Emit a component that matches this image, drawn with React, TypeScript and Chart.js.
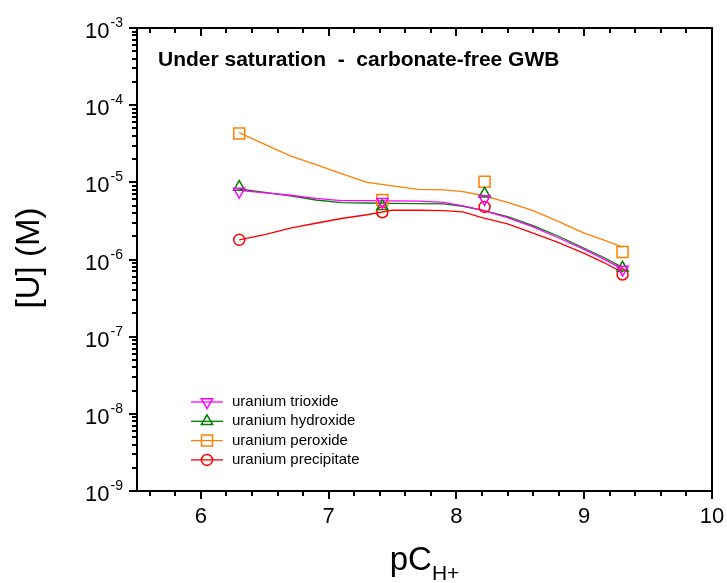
import React, { useEffect, useRef } from 'react';
import { Chart, registerables } from 'chart.js';

Chart.register(...registerables);

// ---- data ----
const markerX = [6.3, 7.42, 8.22, 9.3];
const trioxideMarkers = [7.6e-6, 5.6e-6, 6.1e-6, 7.4e-7];
const hydroxideMarkers = [8.7e-6, 4.9e-6, 7.1e-6, 7.8e-7];
const peroxideMarkers = [4.3e-5, 5.9e-6, 1.02e-5, 1.25e-6];
const precipitateMarkers = [1.8e-6, 4.1e-6, 4.8e-6, 6.4e-7];

const curveX = [6.3, 6.5, 6.7, 6.9, 7.1, 7.3, 7.5, 7.7, 7.9, 8.05, 8.2, 8.4, 8.6, 8.8, 9.0, 9.15, 9.3];
const trioxideCurve = [7.9e-6, 7.3e-6, 6.8e-6, 6.2e-6, 5.8e-6, 5.8e-6, 5.75e-6, 5.7e-6, 5.5e-6, 4.95e-6, 4.35e-6, 3.5e-6, 2.65e-6, 1.9e-6, 1.35e-6, 1.02e-6, 7.5e-7];
const hydroxideCurve = [8.2e-6, 7.4e-6, 6.7e-6, 5.9e-6, 5.45e-6, 5.4e-6, 5.35e-6, 5.3e-6, 5.25e-6, 4.9e-6, 4.35e-6, 3.6e-6, 2.75e-6, 2.0e-6, 1.4e-6, 1.07e-6, 7.9e-7];
const peroxideCurve = [4.4e-5, 3.1e-5, 2.2e-5, 1.7e-5, 1.3e-5, 1.0e-5, 9.0e-6, 8.1e-6, 8.0e-6, 7.6e-6, 6.8e-6, 5.5e-6, 4.3e-6, 3.1e-6, 2.2e-6, 1.8e-6, 1.45e-6];
const precipitateCurve = [1.8e-6, 2.1e-6, 2.55e-6, 2.95e-6, 3.4e-6, 3.8e-6, 4.35e-6, 4.35e-6, 4.3e-6, 4.15e-6, 3.5e-6, 2.9e-6, 2.2e-6, 1.65e-6, 1.2e-6, 0.92e-6, 6.8e-7];

const seriesNames = ['uranium trioxide', 'uranium hydroxide', 'uranium peroxide', 'uranium precipitate'];
const seriesColors = ['#ff00ff', '#008000', '#ff8000', '#ff0000'];
const seriesStyles = ['triangleDown', 'triangle', 'rect', 'circle'];

const xMajorTicks = [6, 7, 8, 9, 10];
const xMinorTicks = [5.6, 5.8, 6.2, 6.4, 6.6, 6.8, 7.2, 7.4, 7.6, 7.8, 8.2, 8.4, 8.6, 8.8, 9.2, 9.4, 9.6, 9.8];
const yDecades = [-9, -8, -7, -6, -5, -4, -3];

const plotTitle = 'Under saturation  -  carbonate-free GWB';
const yTitle = '[U] (M)';
const xTitleMain = 'pC';
const xTitleSub = 'H+';

const FONT = '"Liberation Sans", Arial, sans-serif';

function pts(xs: number[], ys: number[]) {
  return xs.map((x, i) => ({ x, y: ys[i] }));
}

function drawMarker(ctx: CanvasRenderingContext2D, style: string, x: number, y: number) {
  ctx.beginPath();
  if (style === 'circle') {
    ctx.arc(x, y, 5.5, 0, Math.PI * 2);
  } else if (style === 'rect') {
    const s = 5.5;
    ctx.rect(x - s, y - s, 2 * s, 2 * s);
  } else {
    const r = 6.5;
    let rad = style === 'triangleDown' ? Math.PI : 0;
    ctx.moveTo(x + Math.sin(rad) * r, y - Math.cos(rad) * r);
    rad += (2 * Math.PI) / 3;
    ctx.lineTo(x + Math.sin(rad) * r, y - Math.cos(rad) * r);
    rad += (2 * Math.PI) / 3;
    ctx.lineTo(x + Math.sin(rad) * r, y - Math.cos(rad) * r);
    ctx.closePath();
  }
  ctx.stroke();
}

const decorPlugin = {
  id: 'decor',
  afterDraw(chart: any) {
    const ctx: CanvasRenderingContext2D = chart.ctx;
    const { left, right, top, bottom } = chart.chartArea;
    const xs = chart.scales.x;
    const ys = chart.scales.y;
    ctx.save();
    ctx.strokeStyle = '#000';
    ctx.fillStyle = '#000';

    // frame
    ctx.lineWidth = 2;
    ctx.strokeRect(left, top, right - left, bottom - top);

    // x ticks (bottom outward, top inward)
    ctx.lineWidth = 2;
    ctx.beginPath();
    xMajorTicks.forEach((v) => {
      const px = Math.round(xs.getPixelForValue(v));
      ctx.moveTo(px, bottom); ctx.lineTo(px, bottom + 8);
      ctx.moveTo(px, top); ctx.lineTo(px, top + 8);
    });
    xMinorTicks.forEach((v) => {
      const px = Math.round(xs.getPixelForValue(v));
      ctx.moveTo(px, bottom); ctx.lineTo(px, bottom + 5);
      ctx.moveTo(px, top); ctx.lineTo(px, top + 5);
    });
    ctx.stroke();

    // y ticks (left outward)
    ctx.beginPath();
    yDecades.forEach((e) => {
      const py = Math.round(ys.getPixelForValue(Math.pow(10, e)));
      ctx.moveTo(left, py); ctx.lineTo(left - 8, py);
      if (e < -3) {
        for (let m = 2; m <= 9; m++) {
          const pm = Math.round(ys.getPixelForValue(m * Math.pow(10, e)));
          ctx.moveTo(left, pm); ctx.lineTo(left - 5, pm);
        }
      }
    });
    ctx.stroke();

    // x tick labels
    ctx.font = `22px ${FONT}`;
    ctx.textAlign = 'center';
    ctx.textBaseline = 'alphabetic';
    xMajorTicks.forEach((v) => {
      ctx.fillText(String(v), xs.getPixelForValue(v), 523);
    });

    // y tick labels 10^e
    yDecades.forEach((e) => {
      const py = ys.getPixelForValue(Math.pow(10, e));
      ctx.font = `14px ${FONT}`;
      ctx.textAlign = 'right';
      const expStr = String(e);
      const w = ctx.measureText(expStr).width;
      ctx.fillText(expStr, 123, py - 1);
      ctx.font = `22px ${FONT}`;
      ctx.fillText('10', 123 - w - 1, py + 10);
    });

    // axis titles
    ctx.font = `33px ${FONT}`;
    ctx.textAlign = 'left';
    const wMain = ctx.measureText(xTitleMain).width;
    ctx.font = `21px ${FONT}`;
    const wSub = ctx.measureText(xTitleSub).width;
    const startX = (left + right) / 2 - (wMain + wSub) / 2;
    ctx.font = `33px ${FONT}`;
    ctx.fillText(xTitleMain, startX, 570);
    ctx.font = `21px ${FONT}`;
    ctx.fillText(xTitleSub, startX + wMain, 580);

    ctx.save();
    ctx.translate(30, 258);
    ctx.rotate(-Math.PI / 2);
    ctx.font = `33px ${FONT}`;
    ctx.textAlign = 'center';
    ctx.textBaseline = 'middle';
    ctx.fillText(yTitle, 0, 0);
    ctx.restore();

    // inner title
    ctx.font = `bold 21px ${FONT}`;
    ctx.textAlign = 'left';
    ctx.textBaseline = 'alphabetic';
    ctx.fillText(plotTitle, 158, 66);

    // legend
    seriesNames.forEach((name, i) => {
      const y = 402 + i * 19.3;
      ctx.strokeStyle = seriesColors[i];
      ctx.lineWidth = 1.3;
      ctx.beginPath();
      ctx.moveTo(191, y); ctx.lineTo(223, y);
      ctx.stroke();
      ctx.lineWidth = 1.5;
      drawMarker(ctx, seriesStyles[i], 207, y);
      ctx.fillStyle = '#000';
      ctx.font = `15px ${FONT}`;
      ctx.textBaseline = 'middle';
      ctx.fillText(name, 232, y);
    });
    ctx.restore();
  },
};

export default function App() {
  const ref = useRef<HTMLCanvasElement>(null);
  useEffect(() => {
    const markerSets = [trioxideMarkers, hydroxideMarkers, peroxideMarkers, precipitateMarkers];
    const curveSets = [trioxideCurve, hydroxideCurve, peroxideCurve, precipitateCurve];
    const markerDatasets = markerSets.map((vals, i) => ({
      label: seriesNames[i] + ' data',
      data: pts(markerX, vals),
      showLine: false,
      borderColor: seriesColors[i],
      backgroundColor: 'transparent',
      pointStyle: seriesStyles[i] === 'triangleDown' ? 'triangle' : seriesStyles[i],
      rotation: seriesStyles[i] === 'triangleDown' ? 180 : 0,
      pointRadius: seriesStyles[i] === 'rect' ? 7.8 : seriesStyles[i] === 'circle' ? 5.5 : 6.5,
      pointBorderWidth: 1.5,
    }));
    const curveDatasets = curveSets.map((vals, i) => ({
      label: seriesNames[i],
      data: pts(curveX, vals),
      showLine: true,
      borderColor: seriesColors[i],
      backgroundColor: 'transparent',
      borderWidth: 1.3,
      pointRadius: 0,
      tension: 0,
    }));
    const chart = new Chart(ref.current as HTMLCanvasElement, {
      type: 'scatter',
      data: { datasets: [...markerDatasets, ...curveDatasets] as any },
      options: {
        animation: false,
        responsive: false,
        maintainAspectRatio: false,
        layout: { padding: { left: 0, right: 15, top: 28, bottom: 0 } },
        plugins: { legend: { display: false }, tooltip: { enabled: false }, title: { display: false } },
        scales: {
          x: {
            type: 'linear', min: 5.5, max: 10,
            grid: { display: false }, border: { display: false },
            ticks: { display: false },
            afterFit: (s: any) => { s.height = 92; },
          },
          y: {
            type: 'logarithmic', min: 1e-9, max: 1e-3,
            grid: { display: false }, border: { display: false },
            ticks: { display: false },
            afterFit: (s: any) => { s.width = 137; },
          },
        },
      } as any,
      plugins: [decorPlugin],
    });
    return () => chart.destroy();
  }, []);
  return (
    <div style={{ position: 'fixed', left: 0, top: 0, width: 727, height: 583, background: '#fff' }}>
      <canvas ref={ref} width={727} height={583} style={{ display: 'block' }} />
    </div>
  );
}
